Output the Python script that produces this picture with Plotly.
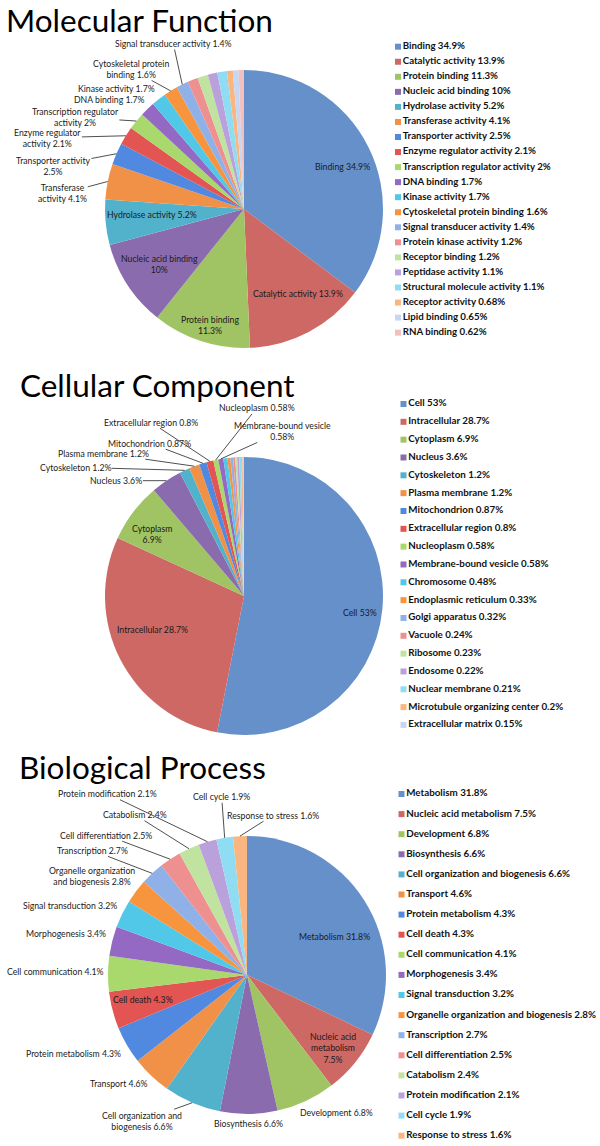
import math
import plotly.graph_objects as go

W, H = 600, 1146

# ---------------- data ----------------
mf_labels = ["Binding", "Catalytic activity", "Protein binding", "Nucleic acid binding",
             "Hydrolase activity", "Transferase activity", "Transporter activity",
             "Enzyme regulator activity", "Transcription regulator activity", "DNA binding",
             "Kinase activity", "Cytoskeletal protein binding", "Signal transducer activity",
             "Protein kinase activity", "Receptor binding", "Peptidase activity",
             "Structural molecule activity", "Receptor activity", "Lipid binding", "RNA binding"]
mf_values = [34.9, 13.9, 11.3, 10, 5.2, 4.1, 2.5, 2.1, 2, 1.7, 1.7, 1.6, 1.4, 1.2, 1.2,
             1.1, 1.1, 0.68, 0.65, 0.62]

cc_labels = ["Cell", "Intracellular", "Cytoplasm", "Nucleus", "Cytoskeleton", "Plasma membrane",
             "Mitochondrion", "Extracellular region", "Nucleoplasm", "Membrane-bound vesicle",
             "Chromosome", "Endoplasmic reticulum", "Golgi apparatus", "Vacuole", "Ribosome",
             "Endosome", "Nuclear membrane", "Microtubule organizing center", "Extracellular matrix"]
cc_values = [53, 28.7, 6.9, 3.6, 1.2, 1.2, 0.87, 0.8, 0.58, 0.58, 0.48, 0.33, 0.32, 0.24,
             0.23, 0.22, 0.21, 0.2, 0.15]

bp_labels = ["Metabolism", "Nucleic acid metabolism", "Development", "Biosynthesis",
             "Cell organization and biogenesis", "Transport", "Protein metabolism", "Cell death",
             "Cell communication", "Morphogenesis", "Signal transduction",
             "Organelle organization and biogenesis", "Transcription", "Cell differentiation",
             "Catabolism", "Protein modification", "Cell cycle", "Response to stress"]
bp_values = [31.8, 7.5, 6.8, 6.6, 6.6, 4.6, 4.3, 4.3, 4.1, 3.4, 3.2, 2.8, 2.7, 2.5, 2.4,
             2.1, 1.9, 1.6]

titles = ["Molecular Function", "Cellular Component", "Biological Process"]

palette = ["#6690CA", "#CE6865", "#A0C463", "#8A6CAE", "#52B2CC", "#F19147",
           "#5089DF", "#E25552", "#A9D86C", "#9369C4", "#52C8E8", "#F7953E",
           "#8FB1E7", "#EF9090", "#C0E3A0", "#BAA1DB", "#90DCF2", "#F9B680",
           "#C7D7F2", "#F3C0C0"]

# ---------------- slice label styling (text wrap + placement) ----------------
# ("in", frac_of_radius, angle_shift_deg) or ("out", dx_px, dy_px, leader_line)
mf_text = [(0, "Binding {}", ("in", 0.77, 3)),
           (1, "Catalytic activity {}", ("in", 0.72, -5)),
           (2, "Protein binding<br>{}", ("in", 0.87, -2)),
           (3, "Nucleic acid binding<br>{}", ("in", 0.73, 0)),
           (4, "Hydrolase activity {}", ("in", 0.66, 2)),
           (5, "Transferase<br>activity {}", ("out", -45, 12, True)),
           (6, "Transporter activity<br>{}", ("out", -63, 12, True)),
           (7, "Enzyme regulator<br>activity {}", ("out", -78, 2, True)),
           (8, "Transcription regulator<br>activity {}", ("out", -61, -4, True)),
           (9, "DNA binding {}", ("out", -38, -9.5, False)),
           (10, "Kinase activity {}", ("out", -42, -10.5, False)),
           (11, "Cytoskeletal protein<br>binding {}", ("out", -40, -22, True)),
           (12, "Signal transducer activity {}", ("out", -9, -41, True))]

cc_text = [(0, "Cell {}", ("in", 0.84, 2.7)),
           (1, "Intracellular {}", ("in", 0.705, 6.8)),
           (2, "Cytoplasm<br>{}", ("in", 0.80, -3.4)),
           (3, "Nucleus {}", ("out", -50, 0, True)),
           (4, "Cytoskeleton {}", ("out", -109, -3, True)),
           (5, "Plasma membrane {}", ("out", -91, -13, True)),
           (6, "Mitochondrion {}", ("out", -53, -20, True)),
           (7, "Extracellular region {}", ("out", -59, -39, True)),
           (8, "Nucleoplasm {}", ("out", 41, -52, True)),
           (9, "Membrane-bound vesicle<br>{}", ("out", 62, -28, True))]

bp_text = [(0, "Metabolism {}", ("in", 0.69, 8.4)),
           (1, "Nucleic acid<br>metabolism<br>{}", ("in", 0.81, 1.3)),
           (2, "Development {}", ("out", 31, 12, False)),
           (3, "Biosynthesis {}", ("out", 0, 10, False)),
           (4, "Cell organization and<br>biogenesis {}", ("out", -50, 18, True)),
           (5, "Transport {}", ("out", -32, 8, False)),
           (6, "Protein metabolism {}", ("out", -53, 8, False)),
           (7, "Cell death {}", ("in", 0.77, 1.7)),
           (8, "Cell communication {}", ("out", -53, -2, False)),
           (9, "Morphogenesis {}", ("out", -46, -8, False)),
           (10, "Signal transduction {}", ("out", -52, -8, False)),
           (11, "Organelle organization<br>and biogenesis {}", ("out", -44, -15, False)),
           (12, "Transcription {}", ("out", -60, -23, True)),
           (13, "Cell differentiation {}", ("out", -64, -24, True)),
           (14, "Catabolism {}", ("out", -54, -34, True)),
           (15, "Protein modification {}", ("out", -100, -48, True)),
           (16, "Cell cycle {}", ("out", -3, -41, True)),
           (17, "Response to stress {}", ("out", 33, -21, True))]

# layout geometry (pixels)
pies = [  # center x, center y, radius
    (244, 209, 139),
    (244, 596, 139),
    (247, 975, 139),
]
legends = [  # swatch x, first row y, row spacing, font size
    (398, 46.7, 15.05, 9.7),
    (403.5, 404, 17.83, 9.8),
    (401.5, 794, 20.1, 9.8),
]
title_pos = [(5, 20), (19, 384.5), (18, 767)]

FONT = "Lato"
LBL = 8.7


def pct(v):
    return f"{v:g}%"


def px(x):
    return x / W


def py(y):
    return 1 - y / H


fig = go.Figure()
annotations = []

charts = [(mf_labels, mf_values, mf_text), (cc_labels, cc_values, cc_text),
          (bp_labels, bp_values, bp_text)]

for k, (labels, values, texts) in enumerate(charts):
    cx, cy, R = pies[k]
    colors = palette[:len(labels)]
    fig.add_trace(go.Pie(
        labels=labels, values=values, sort=False, direction="clockwise", rotation=0,
        marker=dict(colors=colors, line=dict(width=0)),
        textinfo="none", hoverinfo="label+percent", showlegend=False,
        domain=dict(x=[px(cx - R), px(cx + R)], y=[py(cy + R), py(cy - R)]),
    ))

    total = sum(values)
    cum = []
    c = 0
    for v in values:
        cum.append(c)
        c += v

    for idx, pattern, place in texts:
        theta = 2 * math.pi * (cum[idx] + values[idx] / 2) / total
        txt = pattern.format(pct(values[idx]))
        font = dict(family=FONT, size=LBL, color="#1a1a1a")
        common = dict(xref="paper", yref="paper", text=txt, align="center", font=font,
                      xanchor="center", yanchor="middle", borderpad=0)
        if place[0] == "in":
            frac, dth = place[1], place[2]
            t = theta + math.radians(dth)
            x = cx + frac * R * math.sin(t)
            y = cy - frac * R * math.cos(t)
            annotations.append(dict(x=px(x), y=py(y), showarrow=False, **common))
        else:
            dx, dy, line = place[1], place[2], place[3]
            hx = cx + R * math.sin(theta)
            hy = cy - R * math.cos(theta)
            if line:
                annotations.append(dict(x=px(hx), y=py(hy), showarrow=True, ax=dx, ay=dy,
                                        arrowhead=0, arrowwidth=0.8, arrowcolor="#222",
                                        standoff=0, **common))
            else:
                annotations.append(dict(x=px(hx), y=py(hy), showarrow=False,
                                        xshift=dx, yshift=-dy, **common))

    # legend built as a marker+text column on its own hidden axes
    sx, fy, sp, fs = legends[k]
    n = len(labels)
    ax_id = "" if k == 0 else str(k + 1)
    fig.add_trace(go.Scatter(
        x=[0] * n, y=list(range(n)), mode="markers+text",
        text=[f"{l} {pct(v)}" for l, v in zip(labels, values)],
        textposition="middle right",
        textfont=dict(family=FONT, size=fs, color="#111", weight="bold"),
        marker=dict(symbol="square", size=6, color=colors, line=dict(width=0)),
        cliponaxis=False, hoverinfo="skip", showlegend=False,
        xaxis="x" + ax_id, yaxis="y" + ax_id,
    ))
    fig.layout["xaxis" + ax_id] = dict(domain=[px(sx), 1], range=[0, 1], visible=False,
                                       fixedrange=True)
    fig.layout["yaxis" + ax_id] = dict(domain=[py(fy + (n - 1) * sp), py(fy)],
                                       range=[n - 1, 0], visible=False, fixedrange=True)

    tx, ty = title_pos[k]
    annotations.append(dict(x=px(tx), y=py(ty), xref="paper", yref="paper",
                            text=titles[k], showarrow=False, xanchor="left",
                            yanchor="middle", borderpad=0,
                            font=dict(family=FONT, size=31.5, color="#000")))

fig.update_layout(
    width=W, height=H, margin=dict(l=0, r=0, t=0, b=0),
    paper_bgcolor="white", plot_bgcolor="white", showlegend=False,
    annotations=annotations,
)

fig.write_html("out.html", config={"displayModeBar": False},
               post_script="document.body.style.margin='0';")
